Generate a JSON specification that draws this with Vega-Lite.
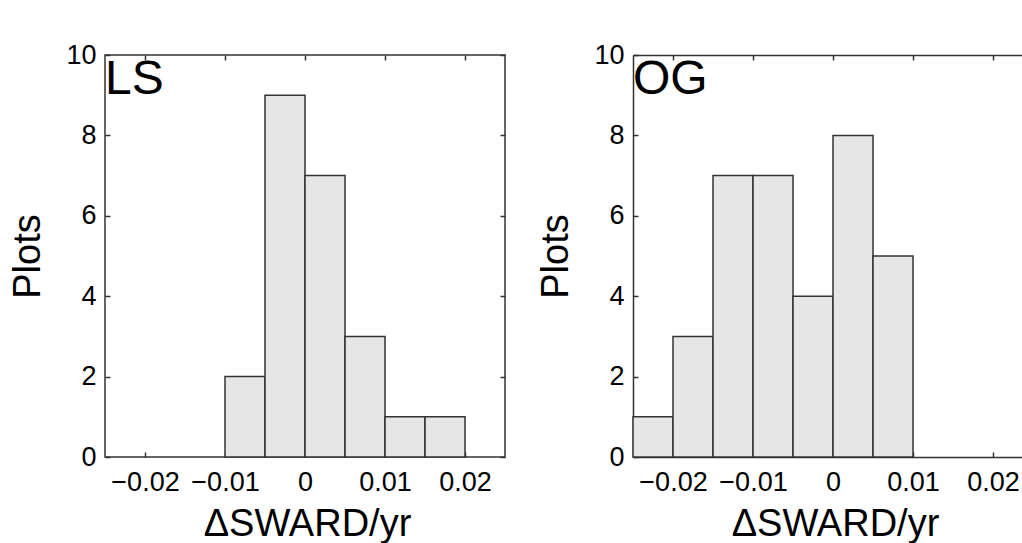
{
  "$schema": "https://vega.github.io/schema/vega-lite/v6.json",
  "autosize": "none",
  "padding": {"left": 105, "top": 55, "right": 917, "bottom": 488},
  "background": "white",
  "spacing": 128,
  "bounds": "flush",
  "datasets": {
    "ls": [
      {"bin_start": -0.01, "bin_end": -0.005, "count": 2},
      {"bin_start": -0.005, "bin_end": 0, "count": 9},
      {"bin_start": 0, "bin_end": 0.005, "count": 7},
      {"bin_start": 0.005, "bin_end": 0.01, "count": 3},
      {"bin_start": 0.01, "bin_end": 0.015, "count": 1},
      {"bin_start": 0.015, "bin_end": 0.02, "count": 1}
    ],
    "og": [
      {"bin_start": -0.025, "bin_end": -0.02, "count": 1},
      {"bin_start": -0.02, "bin_end": -0.015, "count": 3},
      {"bin_start": -0.015, "bin_end": -0.01, "count": 7},
      {"bin_start": -0.01, "bin_end": -0.005, "count": 7},
      {"bin_start": -0.005, "bin_end": 0, "count": 4},
      {"bin_start": 0, "bin_end": 0.005, "count": 8},
      {"bin_start": 0.005, "bin_end": 0.01, "count": 5}
    ],
    "ls_label": [{"label": "LS"}],
    "og_label": [{"label": "OG"}]
  },
  "hconcat": [
    {
      "width": 400,
      "height": 402,
      "view": {"stroke": "#333333", "strokeWidth": 1.5},
      "layer": [
        {
          "data": {"name": "ls"},
          "mark": {"type": "rect", "fill": "#e6e6e6", "stroke": "#333333", "strokeWidth": 1.5},
          "encoding": {
            "x": {
              "field": "bin_start", "type": "quantitative",
              "scale": {"domain": [-0.025, 0.025], "nice": false, "zero": false},
              "axis": {
                "orient": "bottom", "values": [-0.02, -0.01, 0, 0.01, 0.02], "format": "~g",
                "domain": false, "grid": false, "tickSize": -5, "tickColor": "#333333", "tickWidth": 1.5,
                "labelPadding": 17, "labelFontSize": 27, "labelColor": "black", "labelFlush": false, "labelOverlap": false,
                "title": "ΔSWARD/yr", "titleFontSize": 38, "titleFontWeight": "normal", "titleColor": "black",
                "titleX": 202, "titleY": 48, "titleBaseline": "top", "titleAlign": "center"
              }
            },
            "x2": {"field": "bin_end"},
            "y": {
              "field": "count", "type": "quantitative",
              "scale": {"domain": [0, 10], "nice": false},
              "axis": {
                "orient": "left", "values": [0, 2, 4, 6, 8, 10],
                "domain": false, "grid": false, "tickSize": -5, "tickColor": "#333333", "tickWidth": 1.5,
                "labelPadding": 14, "labelFontSize": 27, "labelColor": "black", "labelFlush": false, "labelOverlap": false,
                "title": "Plots", "titleFontSize": 38, "titleFontWeight": "normal", "titleColor": "black",
                "titleX": -58, "titleY": 201, "titleAngle": 270, "titleBaseline": "bottom", "titleAlign": "center"
              }
            },
            "y2": {"datum": 0}
          }
        },
        {
          "data": {"name": "ls_label"},
          "mark": {"type": "text", "align": "left", "baseline": "top", "fontSize": 48, "dx": 0, "dy": 1, "color": "black"},
          "encoding": {
            "x": {
              "datum": -0.025, "type": "quantitative",
              "scale": {"domain": [-0.025, 0.025], "nice": false, "zero": false},
              "axis": {
                "orient": "top", "values": [-0.02, -0.01, 0, 0.01, 0.02], "labels": false, "domain": false, "grid": false,
                "tickSize": -5, "tickColor": "#333333", "tickWidth": 1.5, "title": null
              }
            },
            "y": {
              "datum": 10, "type": "quantitative",
              "scale": {"domain": [0, 10], "nice": false},
              "axis": {
                "orient": "right", "values": [0, 2, 4, 6, 8, 10], "labels": false, "domain": false, "grid": false,
                "tickSize": -5, "tickColor": "#333333", "tickWidth": 1.5, "title": null
              }
            },
            "text": {"field": "label"}
          }
        }
      ],
      "resolve": {"axis": {"x": "independent", "y": "independent"}}
    },
    {
      "width": 389,
      "height": 402,
      "view": {"stroke": null},
      "layer": [
        {
          "data": {"name": "og"},
          "mark": {"type": "rect", "fill": "#e6e6e6", "stroke": "#333333", "strokeWidth": 1.5},
          "encoding": {
            "x": {
              "field": "bin_start", "type": "quantitative",
              "scale": {"domain": [-0.025, 0.023625], "nice": false, "zero": false},
              "axis": {
                "orient": "bottom", "values": [-0.02, -0.01, 0, 0.01, 0.02], "format": "~g",
                "domain": true, "domainColor": "#333333", "domainWidth": 1.5, "grid": false,
                "tickSize": -5, "tickColor": "#333333", "tickWidth": 1.5,
                "labelPadding": 17, "labelFontSize": 27, "labelColor": "black", "labelFlush": false, "labelOverlap": false,
                "title": "ΔSWARD/yr", "titleFontSize": 38, "titleFontWeight": "normal", "titleColor": "black",
                "titleX": 202, "titleY": 48, "titleBaseline": "top", "titleAlign": "center"
              }
            },
            "x2": {"field": "bin_end"},
            "y": {
              "field": "count", "type": "quantitative",
              "scale": {"domain": [0, 10], "nice": false},
              "axis": {
                "orient": "left", "values": [0, 2, 4, 6, 8, 10],
                "domain": true, "domainColor": "#333333", "domainWidth": 1.5, "grid": false,
                "tickSize": -5, "tickColor": "#333333", "tickWidth": 1.5,
                "labelPadding": 14, "labelFontSize": 27, "labelColor": "black", "labelFlush": false, "labelOverlap": false,
                "title": "Plots", "titleFontSize": 38, "titleFontWeight": "normal", "titleColor": "black",
                "titleX": -58, "titleY": 201, "titleAngle": 270, "titleBaseline": "bottom", "titleAlign": "center"
              }
            },
            "y2": {"datum": 0}
          }
        },
        {
          "data": {"name": "og_label"},
          "mark": {"type": "text", "align": "left", "baseline": "top", "fontSize": 48, "dx": 0, "dy": 1, "color": "black"},
          "encoding": {
            "x": {
              "datum": -0.025, "type": "quantitative",
              "scale": {"domain": [-0.025, 0.023625], "nice": false, "zero": false},
              "axis": {
                "orient": "top", "values": [-0.02, -0.01, 0, 0.01, 0.02], "labels": false,
                "domain": true, "domainColor": "#333333", "domainWidth": 1.5, "grid": false,
                "tickSize": -5, "tickColor": "#333333", "tickWidth": 1.5, "title": null
              }
            },
            "y": {
              "datum": 10, "type": "quantitative",
              "scale": {"domain": [0, 10], "nice": false},
              "axis": null
            },
            "text": {"field": "label"}
          }
        }
      ],
      "resolve": {"axis": {"x": "independent", "y": "independent"}}
    }
  ],
  "config": {
    "font": "Liberation Sans",
    "text": {"font": "Liberation Sans"},
    "axis": {"labelFont": "Liberation Sans", "titleFont": "Liberation Sans"}
  }
}
